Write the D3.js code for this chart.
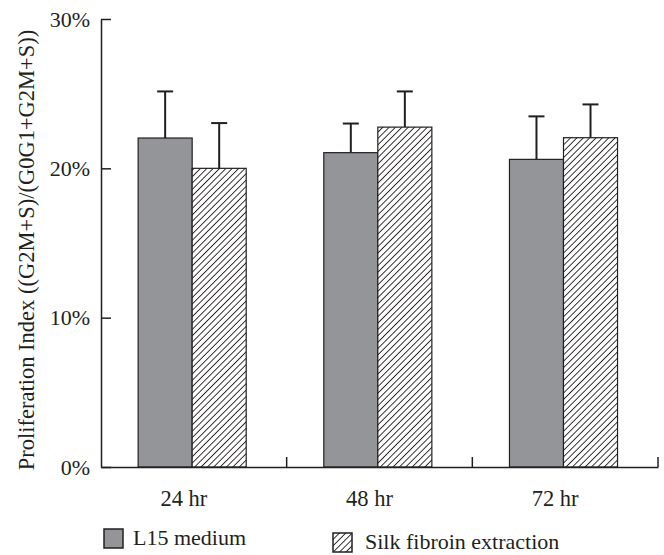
<!DOCTYPE html>
<html><head><meta charset="utf-8">
<script src="https://cdn.jsdelivr.net/npm/d3@7"></script>
<style>
body{margin:0;background:#fff;}
text{font-family:"Liberation Serif","Times New Roman",serif;fill:#231f20;}
</style></head>
<body><svg id="c" width="664" height="555"></svg>
<script>
const categories = ["24 hr","48 hr","72 hr"];
const seriesNames = ["L15 medium","Silk fibroin extraction"];
const l15Values = [0.2203, 0.2105, 0.2060];
const l15Errors = [0.0312, 0.0195, 0.0288];
const silkValues = [0.2000, 0.2276, 0.2205];
const silkErrors = [0.0303, 0.0239, 0.0223];
const yTicks = [0, 0.1, 0.2, 0.3];

const ink = "#231f20";
const svg = d3.select("#c");
const defs = svg.append("defs");
const pw = 4.5;
const pat = defs.append("pattern").attr("id","hatch").attr("patternUnits","userSpaceOnUse")
  .attr("width",pw).attr("height",pw).attr("patternTransform","rotate(45)");
pat.append("rect").attr("width",pw).attr("height",pw).attr("fill","#fff");
pat.append("line").attr("x1",0).attr("y1",-1).attr("x2",0).attr("y2",pw+1)
  .attr("stroke",ink).attr("stroke-width",1.8);

const x = d3.scaleBand().domain(categories).range([101,658]);
const bw = x.bandwidth();
const x1 = d3.scaleBand().domain(seriesNames).range([bw*0.2, bw*0.782]);
const y = d3.scaleLinear().domain([0,0.3]).range([467,19]);

const data = categories.map((c,i)=>({cat:c, vals:[
  {s:seriesNames[0], v:l15Values[i], e:l15Errors[i]},
  {s:seriesNames[1], v:silkValues[i], e:silkErrors[i]}]}));

const fills = {"L15 medium":"#939598","Silk fibroin extraction":"url(#hatch)"};

const g = svg.append("g");
const groups = g.selectAll("g.grp").data(data).enter().append("g")
  .attr("transform", d=>`translate(${x(d.cat)},0)`);
groups.selectAll("line.err").data(d=>d.vals).enter().append("line")
  .attr("x1",d=>x1(d.s)+x1.bandwidth()/2).attr("x2",d=>x1(d.s)+x1.bandwidth()/2)
  .attr("y1",d=>y(d.v)).attr("y2",d=>y(d.v+d.e)).attr("stroke",ink).attr("stroke-width",2);
groups.selectAll("line.cap").data(d=>d.vals).enter().append("line")
  .attr("x1",d=>x1(d.s)+x1.bandwidth()/2-8).attr("x2",d=>x1(d.s)+x1.bandwidth()/2+8)
  .attr("y1",d=>y(d.v+d.e)).attr("y2",d=>y(d.v+d.e)).attr("stroke",ink).attr("stroke-width",2);
groups.selectAll("rect").data(d=>d.vals).enter().append("rect")
  .attr("x",d=>x1(d.s)).attr("width",x1.bandwidth())
  .attr("y",d=>y(d.v)).attr("height",d=>y(0)-y(d.v))
  .attr("fill",d=>fills[d.s]).attr("stroke",ink).attr("stroke-width",1.2);

const yAxis = svg.append("g").attr("transform","translate(101,0)")
  .call(d3.axisLeft(y).tickValues(yTicks).tickFormat(d3.format(".0%")).tickSizeInner(-10).tickSizeOuter(0).tickPadding(11));
yAxis.select(".domain").attr("stroke",ink).attr("stroke-width",1.5);
yAxis.selectAll(".tick line").attr("stroke",ink).attr("stroke-width",1.5);
yAxis.selectAll(".tick text").style("font-size","22px").attr("fill",ink);

const xAxis = svg.append("g").attr("transform","translate(0,467)")
  .call(d3.axisBottom(x).tickSize(0).tickPadding(23));
xAxis.select(".domain").attr("stroke",ink).attr("stroke-width",1.5);
xAxis.selectAll(".tick text").style("font-size","22.5px").attr("fill",ink).attr("dx",-10);
xAxis.selectAll("line.bound").data(categories).enter().append("line").attr("class","bound")
  .attr("x1",d=>x(d)+bw).attr("x2",d=>x(d)+bw).attr("y1",0).attr("y2",-10)
  .attr("stroke",ink).attr("stroke-width",1.5);

svg.append("text").attr("transform","translate(34,250) rotate(-90)")
  .attr("text-anchor","middle").style("font-size","22.5px")
  .text("Proliferation Index ((G2M+S)/(G0G1+G2M+S))");

const legPos = [{x:104,y:529,tx:133,ty:545},{x:333,y:533,tx:365,ty:549}];
seriesNames.forEach((s,i)=>{
  const p = legPos[i];
  svg.append("rect").attr("x",p.x).attr("y",p.y).attr("width",19).attr("height",19)
    .attr("fill",fills[s]).attr("stroke",ink).attr("stroke-width",1.5);
  svg.append("text").attr("x",p.tx).attr("y",p.ty).style("font-size","22px").text(s);
});
</script></body></html>
